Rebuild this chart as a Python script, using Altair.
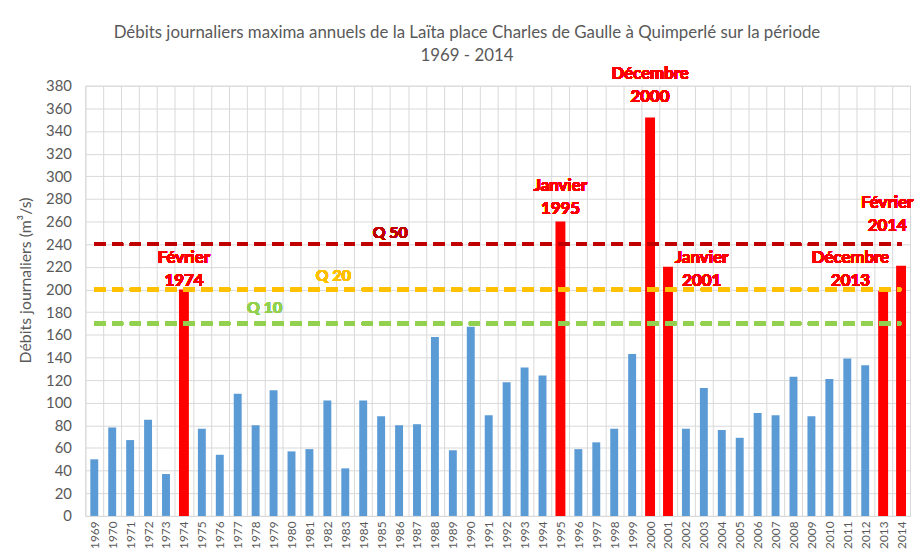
import altair as alt
import pandas as pd

# ---- data ----
years = [str(y) for y in range(1969, 2015)]
debits = [50, 78, 67, 85, 37, 200, 77, 54, 108, 80,
          111, 57, 59, 102, 42, 102, 88, 80, 81, 158,
          58, 167, 89, 118, 131, 124, 260, 59, 65, 77,
          143, 352, 220, 77, 113, 76, 69, 91, 89, 123,
          88, 121, 139, 133, 199, 221]
crues_majeures = ["1974", "1995", "2000", "2001", "2013", "2014"]

annot_years = ["1974", "1995", "2000", "2001", "2013", "2014"]
annot_mois = ["Février", "Janvier", "Décembre", "Janvier", "Décembre", "Février"]

q_noms = ["Q 50", "Q 20", "Q 10"]
q_valeurs = [240, 200, 170]

y_ticks = list(range(0, 381, 20))

# ---- styles / layout ----
FONT = "Lato"
GREY = "#595959"
BLUE = "#5B9BD5"
RED = "#FF0000"
q_style = {
    "Q 50": {"color": "#C00000", "anchor": "1986", "dx": -9, "dy": -11},
    "Q 20": {"color": "#FFC000", "anchor": "1982", "dx": 6, "dy": -14},
    "Q 10": {"color": "#92D050", "anchor": "1978", "dx": 9, "dy": -16},
}
LH = 23
annot_offsets = {
    "1974": (0, 0 - LH),
    "1995": (0, -4 - LH),
    "2000": (0, -12 - LH),
    "2001": (34, 23 - LH),
    "2013": (-33, -1 - LH),
    "2014": (-14, -31 - LH),
}

df = pd.DataFrame({"annee": years, "debit": debits})
df["crue"] = df["annee"].isin(crues_majeures)

x_axis = alt.Axis(
    title=None, labelAngle=270, labelFontSize=12, labelColor=GREY,
    labelFont=FONT, labelPadding=5, ticks=False, grid=True,
    gridColor="#D9D9D9", tickBand="extent", domainColor="#D9D9D9",
    labelBaseline="middle", labelAlign="right",
)
y_axis = alt.Axis(
    title="Débits journaliers (m³/s)", titleFont=FONT, titleFontSize=16,
    titleFontWeight="normal", titleColor=GREY, titleX=-52, titleY=196,
    titleAngle=270, titleBaseline="bottom", titleAlign="center",
    values=y_ticks, labelOverlap=False, labelFontSize=15,
    labelColor=GREY, labelFont=FONT, labelPadding=14, tickSize=0,
    domain=False, grid=True, gridColor="#D9D9D9",
)
# the overlay layers carry an empty y axis of their own
empty_y_axis = alt.Axis(
    title=None, labels=False, ticks=False, grid=False, domain=False,
)
y_scale = alt.Scale(domain=[0, 380], nice=False)
x_scale = alt.Scale(paddingInner=0, paddingOuter=0)

base = alt.Chart(df)

bars = base.mark_bar().encode(
    x=alt.X("annee:N", sort=years, scale=x_scale, axis=x_axis),
    y=alt.Y("debit:Q", scale=y_scale, axis=y_axis),
    color=alt.condition(alt.datum.crue, alt.value(RED), alt.value(BLUE)),
    size=alt.condition(alt.datum.crue, alt.value(10), alt.value(8)),
)

layers = [bars]

for nom, val in zip(q_noms, q_valeurs):
    st = q_style[nom]
    rule = alt.Chart(df).mark_rule(
        color=st["color"], strokeWidth=3.5, strokeDash=[11, 7]
    ).encode(
        x=alt.datum(years[0]),
        x2=alt.datum(years[-1]),
        y=alt.YDatum(val, type="quantitative", axis=empty_y_axis),
    )
    txt = alt.Chart(df).mark_text(
        text=nom, color=st["color"], font=FONT, fontSize=16,
        fontWeight="bold", dx=st["dx"], dy=st["dy"], baseline="middle",
    ).encode(
        x=alt.datum(st["anchor"]),
        y=alt.YDatum(val, type="quantitative", axis=empty_y_axis),
    )
    layers += [rule, txt]

for yr, mois in zip(annot_years, annot_mois):
    dx, dy = annot_offsets[yr]
    val = debits[years.index(yr)]
    t = alt.Chart(df).mark_text(
        text=f"{mois}\n{yr}", lineBreak="\n", lineHeight=LH,
        color=RED, font=FONT, fontSize=17, fontWeight="bold",
        baseline="bottom", dx=dx, dy=dy,
    ).encode(
        x=alt.datum(yr),
        y=alt.YDatum(val, type="quantitative", axis=empty_y_axis),
    )
    layers.append(t)

chart = alt.layer(*layers).resolve_axis(y="independent").properties(
    width=832,
    height=434,
    title=alt.TitleParams(
        text=["Débits journaliers maxima annuels de la Laïta place Charles de Gaulle à Quimperlé sur la période",
              "1969 - 2014"],
        font=FONT, fontSize=17, fontWeight="normal", color=GREY,
        anchor="middle", frame="group", dx=-31, offset=0, lineHeight=23,
    ),
    autosize=alt.AutoSizeParams(type="none"),
    padding={"left": 78, "top": 76, "right": 4, "bottom": 35},
).configure_view(stroke=None).configure(background="white")

chart.save("out.html", embed_options={"renderer": "svg", "actions": False})
